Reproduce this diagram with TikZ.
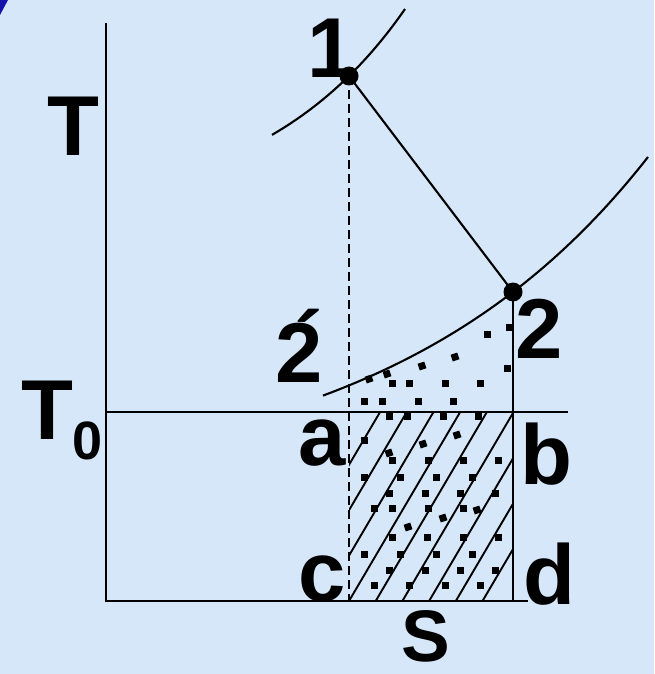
\documentclass[tikz,border=0pt]{standalone}
\usepackage{fontspec}
\setmainfont{Liberation Sans}
\definecolor{bgblue}{RGB}{214,231,249}
\definecolor{cornerblue}{RGB}{20,20,170}
\tikzset{
  lbl/.style={inner sep=0pt, font=\fontsize{85}{85}\selectfont\bfseries},
  statept/.style={circle, fill=black, minimum size=19pt, inner sep=0pt},
  hatchline/.style={line width=1.9pt},
  sq/.style={fill=black}
}
\begin{document}
\begin{tikzpicture}[x=1pt,y=-1pt,line width=2.1pt]
\useasboundingbox (0,0) rectangle (654,674);
\fill[bgblue] (0,0) rectangle (654,674);
\fill[cornerblue] (0,0) -- (8,0) -- (0,15) -- cycle;

% coordinates
\coordinate (Ytop) at (106,23);
\coordinate (O) at (106,601);
\coordinate (Xend) at (528,601);
\coordinate (T0l) at (106,412);
\coordinate (T0r) at (568,412);
\coordinate (c) at (349,601);
\coordinate (d) at (513,601);
\coordinate (P1c) at (349,76);
\coordinate (P2c) at (513,292);

% hatching
\begin{scope}
\clip (349,412) rectangle (513,601);
\foreach \k in {-3,...,5}
  \draw[hatchline] ({349+26.7*\k},601) -- ++(130,-221);
\end{scope}

% dots
\foreach \x/\y in {392/383,409/383,445/383,480/383,487/334,509/327,507/368,
  364/401,382/401,418/401,453/401,
  389/416,407/416,443/416,478/416,364/440,
  392/460,428/460,463/460,498/460,
  364/477,400/477,436/477,472/477,
  389/493,425/493,460/493,495/493,
  374/508,392/508,428/508,463/508,
  392/537,427/537,463/537,498/537,
  364/554,400/554,436/554,472/554,
  389/570,425/570,460/570,495/570,
  374/585,409/585,445/585,480/585}
  \fill[sq] ({\x-3.5},{\y-3.5}) rectangle ++(7,7);
\foreach \x/\y in {369/379,387/374,422/366,455/357,457/435,423/444,389/453,477/510,443/518,408/527}
  \fill[sq,rotate around={18:(\x,\y)}] ({\x-3.5},{\y-3.5}) rectangle ++(7,7);

% axes and lines
\draw (Ytop) -- (O) -- (Xend);
\draw (T0l) -- (T0r);
\draw[dash pattern=on 9pt off 5pt] (P1c) -- (c);
\draw (P2c) -- (d);
\draw (P1c) -- (P2c);

% isobars
\draw plot[domain=272:405, samples=60, smooth] (\x, {600-(379.6+144.4*exp(0.0068*(\x-349)))});
\draw plot[domain=323:648, samples=80, smooth] (\x, {600-(106.5+201.5*exp(0.0038*(\x-513)))});

% state points
\node[statept] (P1) at (P1c) {};
\node[statept] (P2) at (P2c) {};

% labels
\node[lbl, anchor=base] (L1) at (331,78) {1};
\node[lbl, anchor=base] (LT) at (73.5,155) {T};
\node[lbl, anchor=base west] (LT0) at (20,439) {T\raisebox{-20pt}{\fontsize{54}{54}\selectfont 0}};
\node[lbl, anchor=base] (L2) at (539.5,358) {2};
\node[lbl, anchor=base west] (L2p) at (274,382) {2\kern-0.33em\raisebox{0.12em}{´}};
\node[lbl, anchor=base] (La) at (322.5,465) {a};
\node[lbl, anchor=base] (Lb) at (546.5,484) {b};
\node[lbl, anchor=base] (Lc) at (322.5,601) {c};
\node[lbl, anchor=base] (Ld) at (549,604) {d};
\node[lbl, anchor=base, font=\fontsize{73}{73}\selectfont\bfseries] (LS) at (425.5,661) {S};
\end{tikzpicture}
\end{document}
